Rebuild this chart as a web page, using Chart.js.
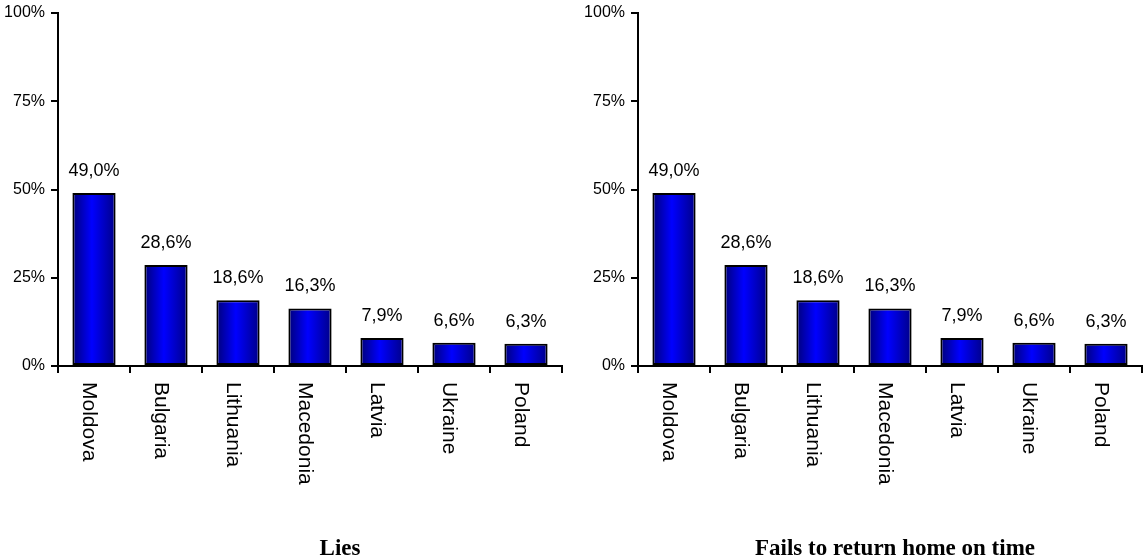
<!DOCTYPE html>
<html>
<head>
<meta charset="utf-8">
<script src="https://cdn.jsdelivr.net/npm/chart.js@4.4.1/dist/chart.umd.min.js"></script>
<style>
  body { margin: 0; background: #fff; }
  #wrap { position: relative; width: 1144px; height: 560px; }
  .box { position: absolute; top: 0; width: 572px; height: 560px; }
</style>
</head>
<body>
<div id="wrap">
  <div class="box" style="left:0"><canvas id="liesChart"></canvas></div>
  <div class="box" style="left:572px"><canvas id="lateChart"></canvas></div>
</div>
<script>
const categories = ["Moldova", "Bulgaria", "Lithuania", "Macedonia", "Latvia", "Ukraine", "Poland"];
const liesValues = [49.0, 28.6, 18.6, 16.3, 7.9, 6.6, 6.3];
const lateValues = [49.0, 28.6, 18.6, 16.3, 7.9, 6.6, 6.3];
const yTickValues = [0, 25, 50, 75, 100];

const sansFont = "'Liberation Sans', Arial, sans-serif";
const barPct = 0.6;

const fmt = (v) => v.toFixed(1).replace(".", ",") + "%";

// blue bars shaded dark at the edges, bright in the middle
const barGradient = (c) => {
	const chart = c.chart;
	const xs = chart.scales.x;
	if (!xs || c.type !== "data") return "#0000ff";
	const cx = xs.getPixelForValue(c.dataIndex);
	const w = (xs.width / categories.length) * barPct;
	if (!isFinite(cx) || !isFinite(w) || w <= 0) return "#0000ff";
	const g = chart.ctx.createLinearGradient(cx - w / 2, 0, cx + w / 2, 0);
	g.addColorStop(0, "#00007a");
	g.addColorStop(0.45, "#0000ff");
	g.addColorStop(1, "#000088");
	return g;
};

const labelsPlugin = {
	id: "barLabels",
	afterDatasetsDraw(chart) {
		const ctx = chart.ctx;
		const meta = chart.getDatasetMeta(0);
		const values = chart.data.datasets[0].data;
		ctx.save();
		ctx.fillStyle = "#000";
		// values above bars
		ctx.font = "18px " + sansFont;
		ctx.textAlign = "center";
		ctx.textBaseline = "alphabetic";
		meta.data.forEach((bar, i) => {
			ctx.fillText(fmt(values[i]), bar.x, bar.y - 17);
		});
		// category names, turned clockwise
		ctx.font = "21px " + sansFont;
		ctx.textAlign = "left";
		const top = chart.chartArea.bottom + 16;
		meta.data.forEach((bar, i) => {
			ctx.save();
			ctx.translate(bar.x, top);
			ctx.rotate(Math.PI / 2);
			ctx.fillText(chart.data.labels[i], 0, 11);
			ctx.restore();
		});
		ctx.restore();
	},
	afterDraw(chart) {
		const opts = chart.options.plugins.sideTitle;
		if (!opts) return;
		const ctx = chart.ctx;
		ctx.save();
		ctx.fillStyle = "#000";
		ctx.font = "bold 23px 'Liberation Serif', 'Times New Roman', serif";
		ctx.textAlign = "center";
		ctx.textBaseline = "alphabetic";
		ctx.fillText(opts.text, opts.x, 555);
		ctx.restore();
	}
};

function makeChart(id, values, title, titleX, padLeft, padRight) {
	return new Chart(document.getElementById(id), {
		type: "bar",
		data: {
			labels: categories,
			datasets: [{
				data: values,
				backgroundColor: barGradient,
				borderColor: "#000",
				borderWidth: 2,
				borderSkipped: false,
				barPercentage: barPct,
				categoryPercentage: 1
			}]
		},
		options: {
			responsive: true,
			maintainAspectRatio: false,
			animation: false,
			layout: { padding: { left: padLeft, right: padRight, top: 13, bottom: 0 } },
			plugins: {
				legend: { display: false },
				tooltip: { enabled: false },
				sideTitle: { text: title, x: titleX }
			},
			scales: {
				x: {
					offset: true,
					grid: {
						offset: true,
						drawOnChartArea: false,
						drawTicks: true,
						tickLength: 7,
						color: "#000",
						lineWidth: 2
					},
					border: { display: true, color: "#000", width: 2 },
					ticks: { display: false },
					afterFit: (s) => { s.height = 194; }
				},
				y: {
					min: 0,
					max: 100,
					afterBuildTicks: (s) => { s.ticks = yTickValues.map((v) => ({ value: v })); },
					ticks: {
						callback: (v) => v + "%",
						color: "#000",
						padding: 6,
						font: { size: 16, family: sansFont }
					},
					grid: {
						drawOnChartArea: false,
						drawTicks: true,
						tickLength: 7,
						color: "#000",
						lineWidth: 2
					},
					border: { display: true, color: "#000", width: 2 },
					afterFit: (s) => {
						s.width = 58;
						s.paddingTop = 0;
						s.paddingBottom = 0;
					}
				}
			}
		},
		plugins: [labelsPlugin]
	});
}

makeChart("liesChart", liesValues, "Lies", 340, 0, 10);
makeChart("lateChart", lateValues, "Fails to return home on time", 323, 8, 2);
</script>
</body>
</html>
